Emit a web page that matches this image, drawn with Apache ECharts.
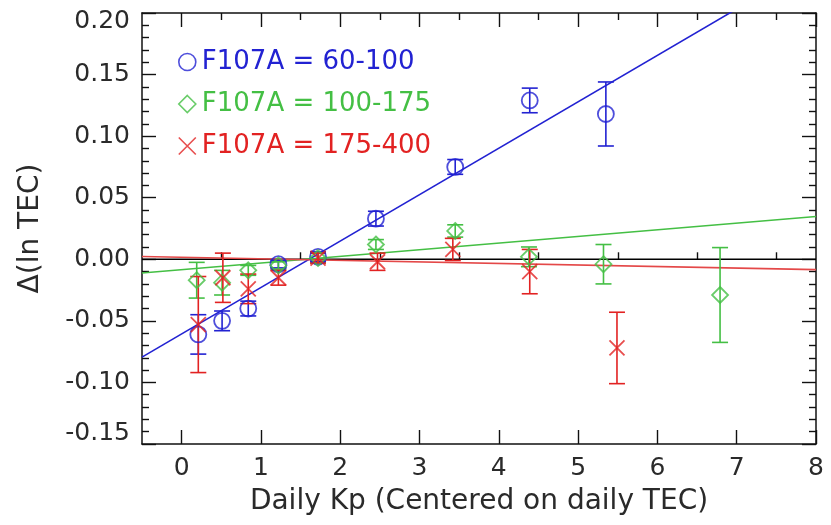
<!DOCTYPE html>
<html>
<head>
<meta charset="utf-8">
<script src="https://cdn.jsdelivr.net/npm/echarts@6/dist/echarts.min.js"></script>
<style>
  html, body { margin: 0; padding: 0; background: #fff; }
  #chart { width: 831px; height: 525px; }
</style>
</head>
<body>
<div id="chart"></div>
<script>
// Δ(ln TEC) versus daily Kp, split by F107A level

// Tick positions
const xMajorTicks = [0, 1, 2, 3, 4, 5, 6, 7, 8];
const xMinorTicks = [0.5, 1.5, 2.5, 3.5, 4.5, 5.5, 6.5, 7.5];

// F107A = 60-100
const kpLow  = [0.21, 0.51, 0.84, 1.22, 1.72, 2.45, 3.45, 4.39, 5.35];
const dLow   = [-0.061, -0.050, -0.040, -0.004, 0.002, 0.033, 0.075, 0.129, 0.118];
const eLow   = [0.016, 0.008, 0.006, 0.003, 0.004, 0.006, 0.006, 0.010, 0.026];

// F107A = 100-175
const kpMid  = [0.19, 0.51, 0.84, 1.22, 1.72, 2.45, 3.45, 4.38, 5.32, 6.79];
const dMid   = [-0.017, -0.019, -0.009, -0.005, 0.001, 0.012, 0.023, 0.002, -0.004, -0.029];
const eMid   = [0.0145, 0.010, 0.004, 0.003, 0.004, 0.004, 0.005, 0.008, 0.016, 0.0385];

// F107A = 175-400
const kpHigh = [0.21, 0.52, 0.84, 1.22, 1.72, 2.47, 3.42, 4.39, 5.49];
const dHigh  = [-0.053, -0.015, -0.024, -0.015, 0.001, -0.002, 0.008, -0.010, -0.072];
const eHigh  = [0.039, 0.020, 0.012, 0.006, 0.004, 0.007, 0.009, 0.018, 0.029];

// Linear fits (end points at the axis limits)
const fitLow  = [[-0.5, -0.0795], [8, 0.241]];
const fitMid  = [[-0.5, -0.0112], [8, 0.0347]];
const fitHigh = [[-0.5, 0.0023], [8, -0.0084]];
const zeroRef = [[-0.5, 0], [8, 0]];

const names = ['F107A = 60-100', 'F107A = 100-175', 'F107A = 175-400'];
const BLUE = '#2222d2', GREEN = '#44bf44', RED = '#e22222';
const FONT = 'DejaVu Sans';
const TXT = '#2a2a2a';
const XSYM = 'path://M0,0L10,10M10,0L0,10';

function pts(xs, ys) { return xs.map((x, i) => [x, ys[i]]); }
function errs(xs, ys, es) { return xs.map((x, i) => [x, ys[i], es[i]]); }

function errorBars(name, data, color) {
  return {
    type: 'custom', name: name + ' err', xAxisIndex: 0, yAxisIndex: 0, z: 3,
    data: data,
    renderItem: function (params, api) {
      const x = api.value(0), y = api.value(1), e = api.value(2);
      const top = api.coord([x, y + e]);
      const bot = api.coord([x, y - e]);
      const w = 8;
      const st = { stroke: color, lineWidth: 1.6 };
      return {
        type: 'group',
        children: [
          { type: 'line', shape: { x1: top[0], y1: top[1], x2: bot[0], y2: bot[1] }, style: st },
          { type: 'line', shape: { x1: top[0] - w, y1: top[1], x2: top[0] + w, y2: top[1] }, style: st },
          { type: 'line', shape: { x1: bot[0] - w, y1: bot[1], x2: bot[0] + w, y2: bot[1] }, style: st }
        ]
      };
    }
  };
}

function fitLine(data, color, z) {
  return {
    type: 'line', data: data, showSymbol: false, symbol: 'none', silent: true,
    xAxisIndex: 0, yAxisIndex: 0, z: z,
    lineStyle: { color: color, width: 1.6 }, clip: true
  };
}

const tickLine = { color: '#111', width: 1.4 };
const frameLine = { show: true, onZero: false, lineStyle: { color: '#111', width: 1.5 } };

const option = {
  backgroundColor: '#fff',
  animation: false,
  grid: [
    { left: 142, top: 13, width: 674, height: 431, containLabel: false },
    { left: 142, top: 13, width: 674, height: 431, containLabel: false }
  ],
  xAxis: [
    {
      type: 'value', gridIndex: 0, position: 'bottom', min: -0.5, max: 8,
      axisLine: frameLine,
      axisTick: { show: true, inside: true, length: 14, customValues: xMajorTicks, lineStyle: tickLine },
      axisLabel: { customValues: xMajorTicks, margin: 12, fontSize: 25, fontFamily: FONT, color: TXT,
                   formatter: v => String(Math.round(v)) },
      splitLine: { show: false },
      name: 'Daily Kp (Centered on daily TEC)', nameLocation: 'middle', nameGap: 44,
      nameTextStyle: { fontSize: 28, fontFamily: FONT, color: TXT }
    },
    {
      type: 'value', gridIndex: 0, position: 'top', min: -0.5, max: 8,
      axisLine: frameLine,
      axisTick: { show: true, inside: true, length: 14, customValues: xMajorTicks, lineStyle: tickLine },
      axisLabel: { show: false }, splitLine: { show: false }
    },
    {
      type: 'value', gridIndex: 1, position: 'bottom', min: -0.5, max: 8,
      axisLine: { show: false },
      axisTick: { show: true, inside: true, length: 7, customValues: xMinorTicks, lineStyle: tickLine },
      axisLabel: { show: false }, splitLine: { show: false }
    },
    {
      type: 'value', gridIndex: 1, position: 'top', min: -0.5, max: 8,
      axisLine: { show: false },
      axisTick: { show: true, inside: true, length: 7, customValues: xMinorTicks, lineStyle: tickLine },
      axisLabel: { show: false }, splitLine: { show: false }
    }
  ],
  yAxis: [
    {
      type: 'value', gridIndex: 0, position: 'left', min: -0.15, max: 0.20, interval: 0.05,
      axisLine: frameLine,
      axisTick: { show: true, inside: true, length: 14, lineStyle: tickLine },
      minorTick: { show: true, splitNumber: 5, length: 7, lineStyle: tickLine },
      axisLabel: {
        margin: 12, fontSize: 25, fontFamily: FONT, color: TXT,
        formatter: function (v) {
          const s = v.toFixed(2);
          if (Math.abs(v - 0.20) < 1e-6) return '{hi|' + s + '}';
          if (Math.abs(v + 0.15) < 1e-6) return '{lo|' + s + '}';
          return s;
        },
        rich: {
          hi: { fontSize: 25, fontFamily: FONT, color: TXT, padding: [16, 0, 0, 0] },
          lo: { fontSize: 25, fontFamily: FONT, color: TXT, padding: [0, 0, 22, 0] }
        }
      },
      splitLine: { show: false },
      name: 'Δ(ln TEC)', nameLocation: 'middle', nameGap: 97, nameRotate: 90,
      nameTextStyle: { fontSize: 28, fontFamily: FONT, color: TXT }
    },
    {
      type: 'value', gridIndex: 0, position: 'right', min: -0.15, max: 0.20, interval: 0.05,
      axisLine: frameLine,
      axisTick: { show: true, inside: true, length: 14, lineStyle: tickLine },
      minorTick: { show: true, splitNumber: 5, length: 7, lineStyle: tickLine },
      axisLabel: { show: false }, splitLine: { show: false }
    },
    {
      type: 'value', gridIndex: 1, min: -0.15, max: 0.20, show: false
    }
  ],
  legend: {
    orient: 'vertical', left: 173, top: 42,
    itemWidth: 17, itemHeight: 17, itemGap: 12,
    selectedMode: false,
    textStyle: { fontSize: 26, fontFamily: FONT, lineHeight: 30, padding: [0, 0, 0, 1] },
    data: [
      { name: names[0], icon: 'circle', itemStyle: { color: 'rgba(0,0,0,0)', borderColor: BLUE, borderWidth: 1.6 }, textStyle: { color: BLUE } },
      { name: names[1], icon: 'diamond', itemStyle: { color: 'rgba(0,0,0,0)', borderColor: GREEN, borderWidth: 1.6 }, textStyle: { color: GREEN } },
      { name: names[2], icon: XSYM, itemStyle: { color: 'rgba(0,0,0,0)', borderColor: RED, borderWidth: 1.6 }, textStyle: { color: RED } }
    ]
  },
  series: [
    {
      type: 'line', data: zeroRef, showSymbol: false, symbol: 'none', silent: true,
      xAxisIndex: 0, yAxisIndex: 0, z: 1, lineStyle: { color: '#000', width: 1.5 }
    },
    fitLine(fitLow, BLUE, 2),
    fitLine(fitMid, GREEN, 2),
    fitLine(fitHigh, '#e44848', 2),
    errorBars(names[0], errs(kpLow, dLow, eLow), BLUE),
    {
      type: 'scatter', name: names[0], data: pts(kpLow, dLow), symbol: 'circle', symbolSize: 16, z: 4,
      itemStyle: { color: 'rgba(0,0,0,0)', borderColor: BLUE, borderWidth: 1.8 }
    },
    errorBars(names[1], errs(kpMid, dMid, eMid), GREEN),
    {
      type: 'scatter', name: names[1], data: pts(kpMid, dMid), symbol: 'diamond', symbolSize: 16, z: 4,
      itemStyle: { color: 'rgba(0,0,0,0)', borderColor: GREEN, borderWidth: 1.8 }
    },
    errorBars(names[2], errs(kpHigh, dHigh, eHigh), RED),
    {
      type: 'scatter', name: names[2], data: pts(kpHigh, dHigh), symbol: XSYM, symbolSize: 15, z: 4,
      itemStyle: { color: 'rgba(0,0,0,0)', borderColor: RED, borderWidth: 1.8 }
    }
  ]
};

const chart = echarts.init(document.getElementById('chart'), null, { renderer: 'canvas' });
chart.setOption(option);
</script>
</body>
</html>
